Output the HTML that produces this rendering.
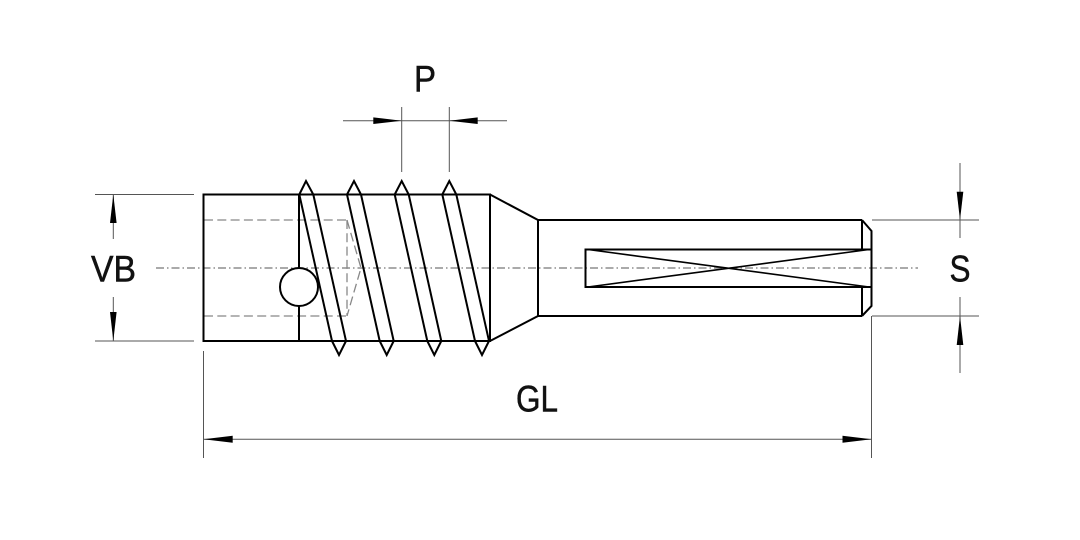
<!DOCTYPE html>
<html>
<head>
<meta charset="utf-8">
<style>
  html,body{margin:0;padding:0;background:#fff;}
  svg{display:block;}
  text{font-family:"Liberation Sans",sans-serif;fill:#111;stroke:#111;stroke-width:0.5;}
</style>
</head>
<body>
<svg width="1080" height="540" viewBox="0 0 1080 540" xmlns="http://www.w3.org/2000/svg">
  <rect width="1080" height="540" fill="#fff"/>

  <!-- Center line -->
  <line x1="156" y1="268" x2="918" y2="268" stroke="#777" stroke-width="1.2" stroke-dasharray="8 3 1.5 3"/>

  <!-- hidden lines -->
  <g stroke="#888" stroke-width="1.3" stroke-dasharray="9 4.3" fill="none">
    <line x1="204" y1="220" x2="347" y2="220"/>
    <line x1="204" y1="316" x2="347" y2="316"/>
    <line x1="347" y1="220" x2="347" y2="316"/>
    <polyline points="347,220 361,268 347,316"/>
  </g>

  <!-- Body object lines -->
  <g stroke="#000" stroke-width="2" fill="none" stroke-linejoin="miter">
    <rect x="203.5" y="194.5" width="286.5" height="146.5"/>
    <line x1="299" y1="194.5" x2="299" y2="268"/>
    <line x1="299" y1="306" x2="299" y2="341"/>
    <polyline points="490,194.5 538,220 538,316 490,341"/>
    <line x1="538" y1="220" x2="862" y2="220"/>
    <line x1="538" y1="316" x2="862" y2="316"/>
    <polyline points="862,220 871.5,231 871.5,306 862,316"/>
    <line x1="862" y1="220" x2="862" y2="249"/>
    <line x1="862" y1="287" x2="862" y2="316"/>
    <polyline points="871.5,249.5 585.5,249.5 585.5,287 871.5,287"/>
    <line x1="588" y1="249.5" x2="869" y2="287" stroke-width="1.6"/>
    <line x1="588" y1="287" x2="869" y2="249.5" stroke-width="1.6"/>
  </g>

  <!-- circle -->
  <circle cx="299" cy="287" r="19" fill="#fff" stroke="#000" stroke-width="2"/>

  <!-- threads -->
  <g stroke="#000" stroke-width="2" fill="none" stroke-linejoin="miter">
    <polyline points="299.3,194.5 306,181 313.3,194.5"/>
    <line x1="299.3" y1="194.5" x2="332" y2="341"/>
    <line x1="313.3" y1="194.5" x2="346" y2="341"/>
    <polyline points="332,341 339,355 346,341"/>

    <polyline points="347,194.5 354,181 361,194.5"/>
    <line x1="347" y1="194.5" x2="379.7" y2="341"/>
    <line x1="361" y1="194.5" x2="393.7" y2="341"/>
    <polyline points="379.7,341 386.7,355 393.7,341"/>

    <polyline points="394.7,194.5 401.7,181 408.7,194.5"/>
    <line x1="394.7" y1="194.5" x2="427.3" y2="341"/>
    <line x1="408.7" y1="194.5" x2="441.3" y2="341"/>
    <polyline points="427.3,341 434.3,355 441.3,341"/>

    <polyline points="442.3,194.5 449.3,181 456.3,194.5"/>
    <line x1="442.3" y1="194.5" x2="475" y2="341"/>
    <line x1="456.3" y1="194.5" x2="489" y2="341"/>
    <polyline points="475,341 482,355 489,341"/>
  </g>

  <!-- Dimension thin lines -->
  <g stroke="#555" stroke-width="1" fill="none">
    <line x1="95" y1="194.5" x2="194" y2="194.5"/>
    <line x1="95" y1="341" x2="194" y2="341"/>
    <line x1="113.3" y1="194.5" x2="113.3" y2="239"/>
    <line x1="113.3" y1="297" x2="113.3" y2="341"/>
    <line x1="343" y1="120.7" x2="507" y2="120.7"/>
    <line x1="401.7" y1="107" x2="401.7" y2="172"/>
    <line x1="449.3" y1="107" x2="449.3" y2="172"/>
    <line x1="872" y1="220" x2="979" y2="220"/>
    <line x1="872" y1="316" x2="979" y2="316"/>
    <line x1="960" y1="163" x2="960" y2="238"/>
    <line x1="960" y1="297" x2="960" y2="373"/>
    <line x1="203.5" y1="351" x2="203.5" y2="458"/>
    <line x1="871.5" y1="316" x2="871.5" y2="458"/>
    <line x1="203.5" y1="439.3" x2="871.5" y2="439.3"/>
  </g>

  <!-- Arrowheads -->
  <g fill="#000" stroke="none">
    <polygon points="113.3,194.5 110,223 116.6,223"/>
    <polygon points="113.3,341 110,312 116.6,312"/>
    <polygon points="401.7,120.7 373.3,117.4 373.3,124"/>
    <polygon points="449.3,120.7 477.7,117.4 477.7,124"/>
    <polygon points="960,220 956.7,191.7 963.3,191.7"/>
    <polygon points="960,316 956.7,345 963.3,345"/>
    <polygon points="203.5,439.3 232.7,435.8 232.7,442.8"/>
    <polygon points="871.5,439.3 842.5,435.8 842.5,442.8"/>
  </g>

  <!-- Labels -->
  <text x="91" y="281.7" font-size="37" textLength="45" lengthAdjust="spacingAndGlyphs">VB</text>
  <text x="414" y="91.7" font-size="37" textLength="22" lengthAdjust="spacingAndGlyphs">P</text>
  <text x="949.5" y="281.7" font-size="37" textLength="21" lengthAdjust="spacingAndGlyphs">S</text>
  <text x="516" y="411.7" font-size="37" textLength="42" lengthAdjust="spacingAndGlyphs">GL</text>
</svg>
</body>
</html>
